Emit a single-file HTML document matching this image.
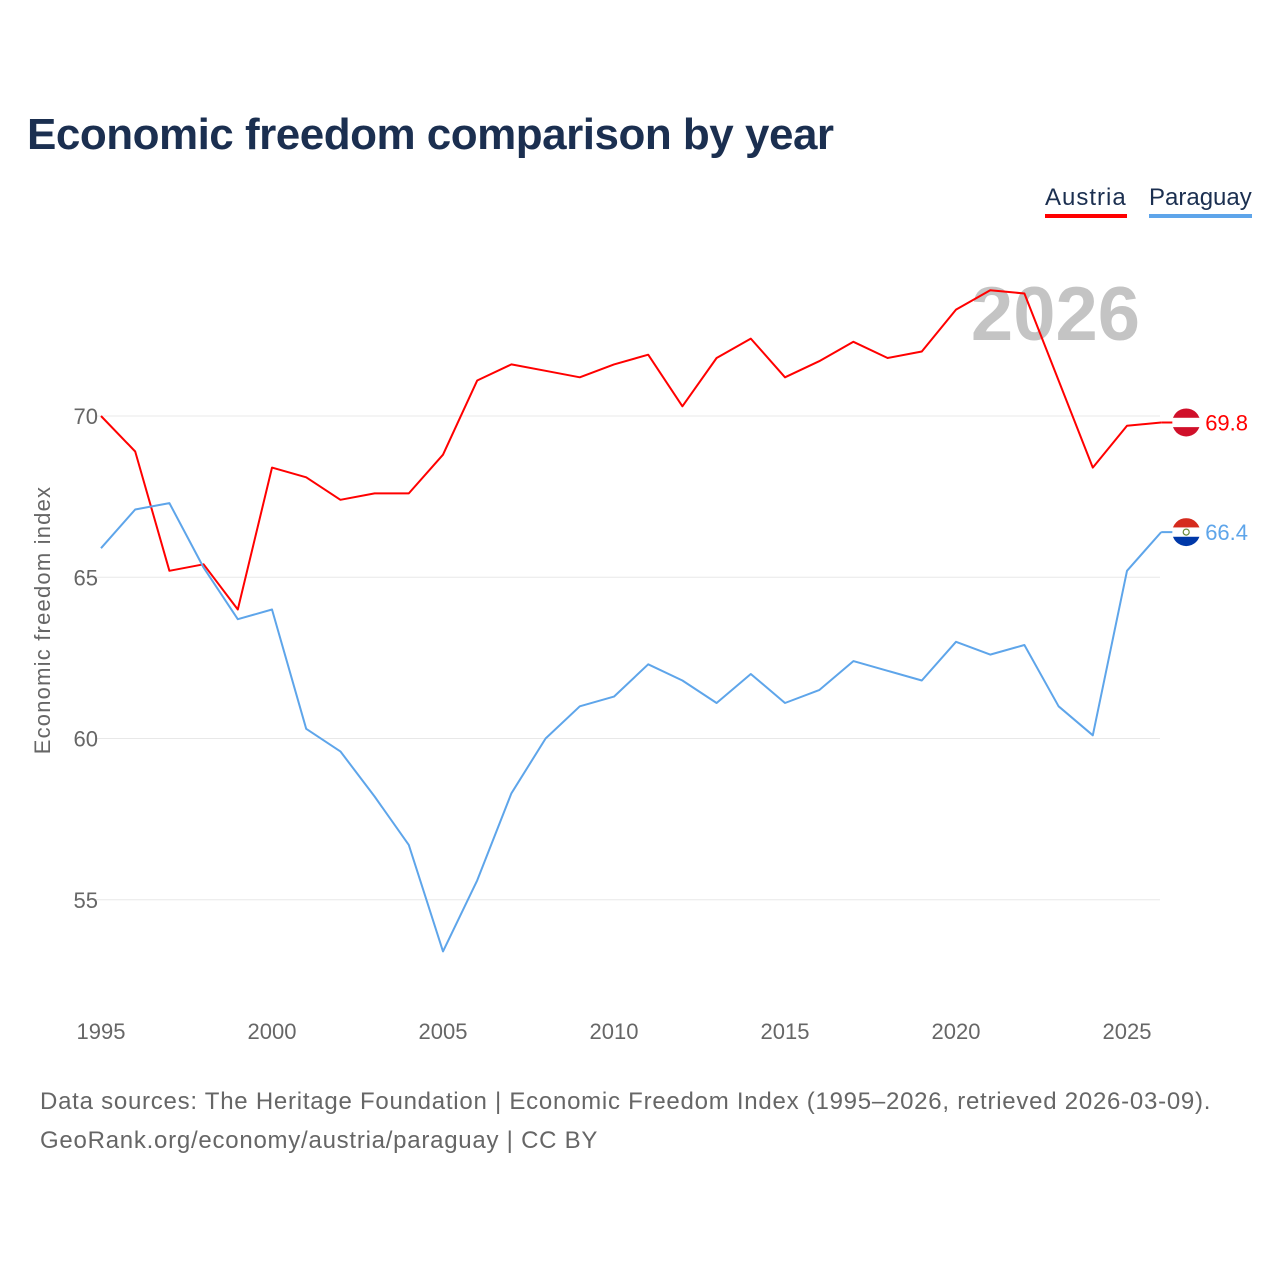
<!DOCTYPE html>
<html>
<head>
<meta charset="utf-8">
<style>
  html,body{margin:0;padding:0;background:#fff;}
  body{width:1280px;height:1280px;position:relative;font-family:"Liberation Sans",sans-serif;overflow:hidden;}
  #title{position:absolute;left:27px;top:110px;font-size:44px;font-weight:bold;color:#1b2f50;margin:0;letter-spacing:-0.5px;}
  .legend{position:absolute;top:184px;font-size:24px;}
  .legend span{display:block;padding-bottom:2px;}
  .footer{position:absolute;left:40px;font-size:24px;color:#666;letter-spacing:0.75px;}
</style>
</head>
<body>
<h1 id="title">Economic freedom comparison by year</h1>
<div class="legend" style="left:1045px;"><span style="color:#1b2f50;border-bottom:4px solid #ff0000;letter-spacing:1px;">Austria</span></div>
<div class="legend" style="left:1149px;"><span style="color:#1b2f50;border-bottom:4px solid #5ea5ea;">Paraguay</span></div>
<svg id="chart" width="1280" height="1280" style="position:absolute;left:0;top:0;"></svg>
<div class="footer" style="top:1088px;">Data sources: The Heritage Foundation | Economic Freedom Index (1995–2026, retrieved 2026-03-09).</div>
<div class="footer" style="top:1127px;">GeoRank.org/economy/austria/paraguay | CC BY</div>
<script>
const years = [1995,1996,1997,1998,1999,2000,2001,2002,2003,2004,2005,2006,2007,2008,2009,2010,2011,2012,2013,2014,2015,2016,2017,2018,2019,2020,2021,2022,2023,2024,2025,2026];
const austria = [70.0,68.9,65.2,65.4,64.0,68.4,68.1,67.4,67.6,67.6,68.8,71.1,71.6,71.4,71.2,71.6,71.9,70.3,71.8,72.4,71.2,71.7,72.3,71.8,72.0,73.3,73.9,73.8,71.1,68.4,69.7,69.8];
const paraguay = [65.9,67.1,67.3,65.3,63.7,64.0,60.3,59.6,58.2,56.7,53.4,55.6,58.3,60.0,61.0,61.3,62.3,61.8,61.1,62.0,61.1,61.5,62.4,62.1,61.8,63.0,62.6,62.9,61.0,60.1,65.2,66.4];
const yTicks = [55,60,65,70];
const xTicks = [1995,2000,2005,2010,2015,2020,2025];

const NS = "http://www.w3.org/2000/svg";
const svg = document.getElementById('chart');
function xs(y){ return 101 + (y-1995)*34.2; }
function ys(v){ return 416 + (70-v)*32.25; }
function mk(tag, attrs){ const e=document.createElementNS(NS,tag); for(const k in attrs) e.setAttribute(k,attrs[k]); svg.appendChild(e); return e; }

const yearLbl = mk('text',{x:1140,y:340,'text-anchor':'end','font-size':76,'font-weight':'bold',fill:'#c4c4c4','font-family':'Liberation Sans, sans-serif'});
yearLbl.textContent='2026';



yTicks.forEach(t=>{
  const g = mk('line',{x1:95,x2:1160,y1:ys(t),y2:ys(t),stroke:'#e8e8e8','stroke-width':1});
  
  
  const l = mk('text',{x:98,y:ys(t)+8,'text-anchor':'end','font-size':22,fill:'#666','font-family':'Liberation Sans, sans-serif'});
  l.textContent=t;
  
  
});
xTicks.forEach(t=>{
  const l = mk('text',{x:xs(t),y:1039,'text-anchor':'middle','font-size':22,fill:'#666','font-family':'Liberation Sans, sans-serif'});
  l.textContent=t;
  
  
});
const yt = mk('text',{x:0,y:0,transform:'translate(50,620) rotate(-90)','text-anchor':'middle','font-size':22,'letter-spacing':'1.2',fill:'#666','font-family':'Liberation Sans, sans-serif'});
yt.textContent='Economic freedom index';



function series(vals,color,name){
  const d = vals.map((v,i)=>(i?'L':'M')+xs(years[i]).toFixed(1)+','+ys(v).toFixed(1)).join(' ');
  const p = mk('path',{d:d,fill:'none',stroke:color,'stroke-width':2,'stroke-linejoin':'round'});
  
  
  const last = vals[vals.length-1];
  const lx = xs(years[years.length-1]), ly = ys(last);
  const c = mk('line',{x1:lx,x2:lx+20,y1:ly,y2:ly,stroke:color,'stroke-width':2});
  
  
  const t = mk('text',{x:lx+44,y:ly+8,'font-size':22,fill:color,'font-family':'Liberation Sans, sans-serif'});
  t.textContent = last.toFixed(1);
  
  
  return [lx+25, ly];
}
const a = series(austria,'#ff0000','austria');
const p = series(paraguay,'#5ea5ea','paraguay');

function flag(cx,cy,cols,name){
  const id='clip-'+name;
  const cp=mk('clipPath',{id:id}); const c=document.createElementNS(NS,'circle');
  c.setAttribute('cx',cx);c.setAttribute('cy',cy);c.setAttribute('r',14);cp.appendChild(c);
  const g=mk('g',{'clip-path':'url(#'+id+')'});
  
  
  cols.forEach((col,i)=>{
    const r=document.createElementNS(NS,'rect');
    r.setAttribute('x',cx-14);r.setAttribute('y',cy-14+i*28/3);r.setAttribute('width',28);r.setAttribute('height',28/3+0.5);r.setAttribute('fill',col);
    g.appendChild(r);
  });
  return g;
}
flag(a[0],a[1],['#d0102a','#ffffff','#d0102a'],'austria');
const pg = flag(p[0],p[1],['#d52b1e','#ffffff','#0038a8'],'paraguay');
const em=document.createElementNS(NS,'circle');
em.setAttribute('cx',p[0]);em.setAttribute('cy',p[1]);em.setAttribute('r',3);em.setAttribute('fill','none');em.setAttribute('stroke','#6a8a3a');em.setAttribute('stroke-width',1.2);
pg.appendChild(em);
</script>
</body>
</html>
